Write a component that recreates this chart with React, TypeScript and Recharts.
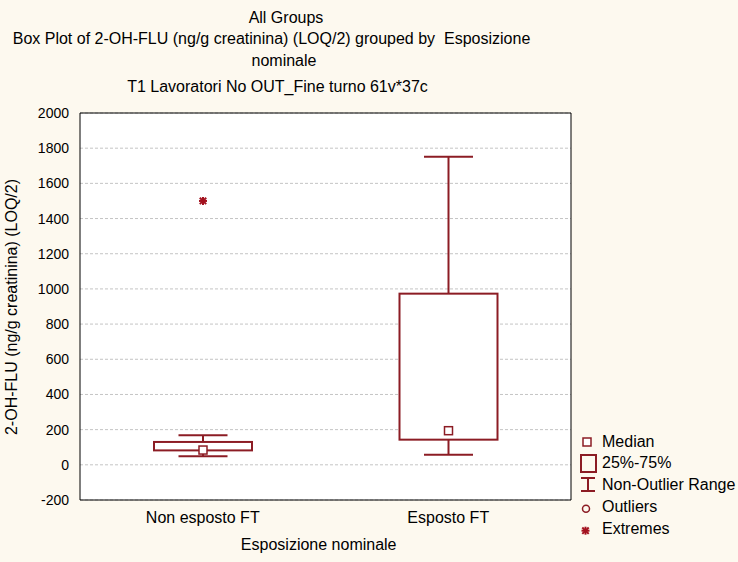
import React from "react";
import {
  ComposedChart,
  Bar,
  XAxis,
  YAxis,
  CartesianGrid,
  ReferenceArea,
} from "recharts";

// Valori (ng/g creatinina)
const gruppi = ["Non esposto FT", "Esposto FT"];
const mediane = [84, 194];
const q1 = [82, 143];
const q3 = [130, 973];
const minNonOutlier = [48, 57];
const maxNonOutlier = [168, 1752];
const estremi: (number | null)[] = [1500, null];
const yTicks = [-200, 0, 200, 400, 600, 800, 1000, 1200, 1400, 1600, 1800, 2000];

const ROSSO = "#8c1c24";
const FONT = "'Liberation Sans', Arial, sans-serif";

const data = gruppi.map((g, i) => ({
  name: g,
  median: mediane[i],
  q1: q1[i],
  q3: q3[i],
  lo: minNonOutlier[i],
  hi: maxNonOutlier[i],
  extreme: estremi[i],
}));

// box + baffi + mediana + estremi, in pixel ricavati dalla scala della barra q1..q3
function BoxShape(props: any) {
  const { x, y, width, height, payload } = props;
  const top = Math.min(y, y + height);
  const h = Math.abs(height);
  const ppu = h / (payload.q3 - payload.q1);
  const toY = (v: number) => top + (payload.q3 - v) * ppu;
  const cx = x + width / 2;
  const cap = width / 4;
  const yMed = toY(payload.median);
  return (
    <g>
      <line x1={cx} x2={cx} y1={toY(payload.hi)} y2={top} stroke={ROSSO} strokeWidth={2} />
      <line x1={cx} x2={cx} y1={top + h} y2={toY(payload.lo)} stroke={ROSSO} strokeWidth={2} />
      <line x1={cx - cap} x2={cx + cap} y1={toY(payload.hi)} y2={toY(payload.hi)} stroke={ROSSO} strokeWidth={2} />
      <line x1={cx - cap} x2={cx + cap} y1={toY(payload.lo)} y2={toY(payload.lo)} stroke={ROSSO} strokeWidth={2} />
      <rect x={x} y={top} width={width} height={h} fill="#fff" stroke={ROSSO} strokeWidth={2} />
      <rect x={cx - 4} y={yMed - 4} width={8} height={8} fill="#fff" stroke={ROSSO} strokeWidth={1.5} />
      {payload.extreme != null && <Star cx={cx} cy={toY(payload.extreme)} />}
    </g>
  );
}

function Star({ cx, cy }: { cx: number; cy: number }) {
  const r = 4;
  return (
    <g stroke="#a3121f" strokeWidth={2}>
      <line x1={cx} x2={cx} y1={cy - r} y2={cy + r} />
      <line x1={cx - r} x2={cx + r} y1={cy} y2={cy} />
      <line x1={cx - r * 0.8} x2={cx + r * 0.8} y1={cy - r * 0.8} y2={cy + r * 0.8} />
      <line x1={cx - r * 0.8} x2={cx + r * 0.8} y1={cy + r * 0.8} y2={cy - r * 0.8} />
    </g>
  );
}

function LegendaBox() {
  const txt = { fontFamily: FONT, fontSize: 16, fill: "#000" };
  return (
    <g transform="translate(578,430)">
      <rect x={5} y={8} width={8} height={8} fill="#fff" stroke={ROSSO} strokeWidth={1.5} />
      <text x={24} y={17} {...txt}>Median</text>
      <rect x={3} y={25} width={15} height={17} fill="none" stroke={ROSSO} strokeWidth={2} />
      <text x={24} y={38} {...txt}>25%-75%</text>
      <line x1={10} x2={10} y1={47} y2={62} stroke={ROSSO} strokeWidth={2} />
      <line x1={3} x2={17} y1={48} y2={48} stroke={ROSSO} strokeWidth={2} />
      <line x1={3} x2={17} y1={61} y2={61} stroke={ROSSO} strokeWidth={2} />
      <text x={24} y={59.5} {...txt}>Non-Outlier Range</text>
      <circle cx={8} cy={78.7} r={3.5} fill="none" stroke={ROSSO} strokeWidth={1.5} />
      <text x={24} y={82} {...txt}>Outliers</text>
      <Star cx={7.5} cy={100.7} />
      <text x={24} y={103.5} {...txt}>Extremes</text>
    </g>
  );
}

export default function App() {
  const t = { fontFamily: FONT, fontSize: 16, fill: "#000" };
  return (
    <div style={{ position: "relative", width: 738, height: 562, background: "#fdf9ef" }}>
      <style>{`body{margin:0}`}</style>
      <ComposedChart
        width={738}
        height={562}
        data={data}
        margin={{ top: 113, right: 167, bottom: 12, left: 30 }}
        style={{ fontFamily: FONT }}
      >
        <CartesianGrid vertical={false} stroke="#c4c4c4" strokeDasharray="3 2" fill="#fff" />
        <XAxis
          dataKey="name"
          height={50}
          axisLine={false}
          tickLine={false}
          tickMargin={6}
          tick={{ fontSize: 16, fill: "#000" }}
        />
        <YAxis
          type="number"
          domain={[-200, 2000]}
          ticks={yTicks}
          width={50}
          axisLine={false}
          tickLine={false}
          tickMargin={5}
          tick={{ fontSize: 14, fill: "#000" }}
        />
        <ReferenceArea y1={-200} y2={2000} fill="none" stroke="#000" strokeWidth={1} />
        <Bar
          dataKey={(d: any) => [d.q1, d.q3]}
          barSize={98}
          shape={BoxShape}
          isAnimationActive={false}
        />
      </ComposedChart>
      <svg
        width={738}
        height={562}
        style={{ position: "absolute", left: 0, top: 0, pointerEvents: "none" }}
      >
        <text x={286} y={22.7} textAnchor="middle" {...t}>All Groups</text>
        <text x={271.5} y={44.3} textAnchor="middle" style={{ whiteSpace: "pre" }} {...t}>
          Box Plot of 2-OH-FLU (ng/g creatinina) (LOQ/2) grouped by  Esposizione
        </text>
        <text x={284} y={65.7} textAnchor="middle" {...t}>nominale</text>
        <text x={277.5} y={92.3} textAnchor="middle" {...t}>T1 Lavoratori No OUT_Fine turno 61v*37c</text>
        <text x={318.7} y={550} textAnchor="middle" {...t}>Esposizione nominale</text>
        <text x={17} y={307} textAnchor="middle" transform="rotate(-90, 17, 307)" {...t}>
          2-OH-FLU (ng/g creatinina) (LOQ/2)
        </text>
        <LegendaBox />
      </svg>
    </div>
  );
}
